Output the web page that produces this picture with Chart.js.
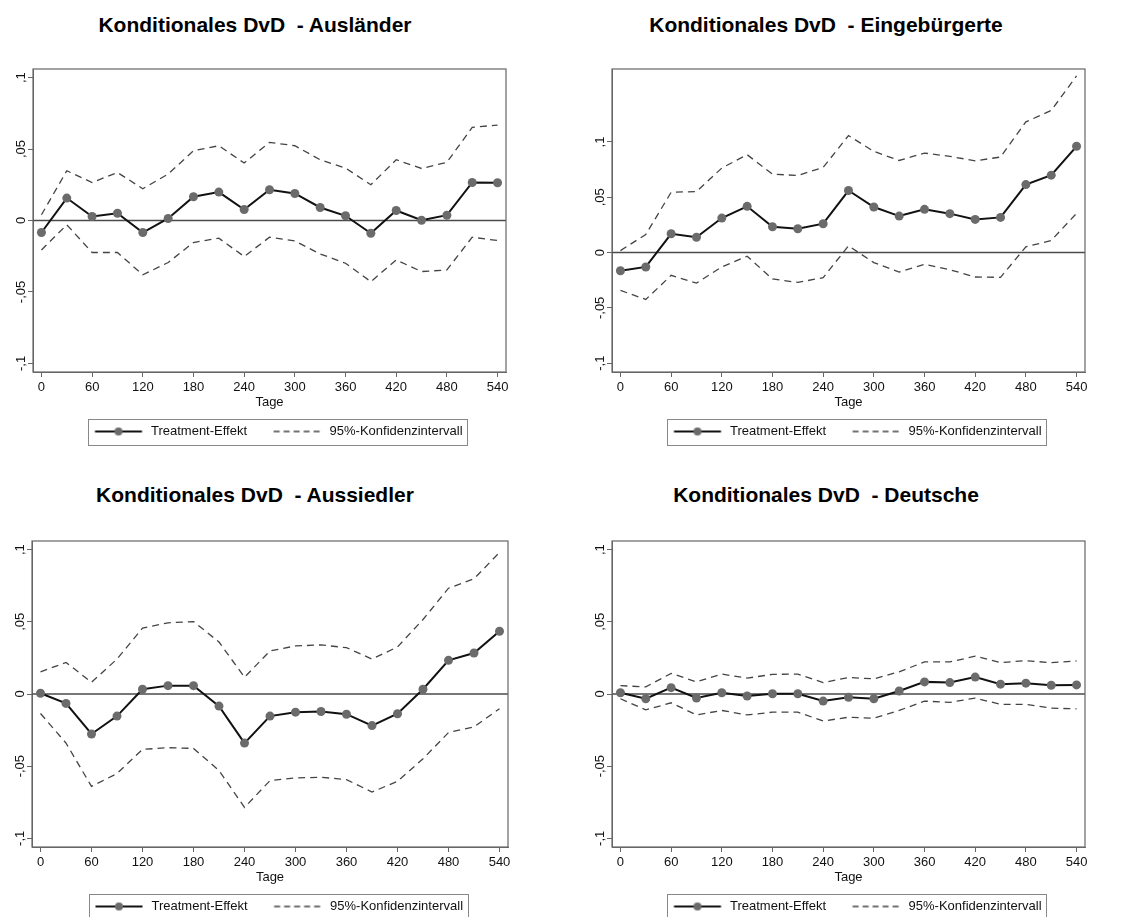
<!DOCTYPE html>
<html>
<head>
<meta charset="utf-8">
<script src="https://cdn.jsdelivr.net/npm/chart.js@4.4.1/dist/chart.umd.min.js"></script>
<style>
  body { margin: 0; width: 1130px; height: 917px; overflow: hidden; background: #fff; position: relative;
         font-family: "Liberation Sans", Arial, sans-serif; }
  .titel { position: absolute; width: 500px; text-align: center; font-weight: bold; font-size: 21px;
           line-height: 24px; color: #000; white-space: pre; }
  canvas { position: absolute; }
</style>
</head>
<body>
<div class="titel" id="t1" style="left:5px;top:13px"></div>
<div class="titel" id="t2" style="left:576px;top:13px"></div>
<div class="titel" id="t3" style="left:5px;top:483px"></div>
<div class="titel" id="t4" style="left:576px;top:483px"></div>
<canvas id="g1" width="560" height="440" style="left:0;top:40px"></canvas>
<canvas id="g2" width="565" height="440" style="left:565px;top:40px"></canvas>
<canvas id="g3" width="560" height="440" style="left:0;top:512px"></canvas>
<canvas id="g4" width="565" height="440" style="left:565px;top:512px"></canvas>
<script>
// Daten
const tage = [0, 30, 60, 90, 120, 150, 180, 210, 240, 270, 300, 330, 360, 390, 420, 450, 480, 510, 540];

const titel = [
  "Konditionales DvD  - Ausländer",
  "Konditionales DvD  - Eingebürgerte",
  "Konditionales DvD  - Aussiedler",
  "Konditionales DvD  - Deutsche"
];

const legendeTexte = ["Treatment-Effekt", "95%-Konfidenzintervall"];
const xTitel = "Tage";

const xTicks = [0, 60, 120, 180, 240, 300, 360, 420, 480, 540];
const yTicks = [-0.1, -0.05, 0, 0.05, 0.1];
const yTickLabels = ["-,1", "-,05", "0", ",05", ",1"];

// Ausländer
const auslEffekt = [-0.0084, 0.0157, 0.0028, 0.0051, -0.0084, 0.0014, 0.0166, 0.0199, 0.0077, 0.0215, 0.0189, 0.0091, 0.0033, -0.0089, 0.0070, 0.0002, 0.0037, 0.0266, 0.0264];
const auslOben   = [0.0040, 0.0348, 0.0266, 0.0336, 0.0222, 0.0325, 0.0488, 0.0523, 0.0402, 0.0547, 0.0523, 0.0425, 0.0367, 0.0250, 0.0425, 0.0364, 0.0407, 0.0652, 0.0668];
const auslUnten  = [-0.0206, -0.0030, -0.0224, -0.0224, -0.0380, -0.0294, -0.0154, -0.0124, -0.0252, -0.0117, -0.0143, -0.0234, -0.0299, -0.0428, -0.0276, -0.0357, -0.0346, -0.0117, -0.0140];

// Eingebürgerte
const einbEffekt = [-0.0164, -0.0130, 0.0170, 0.0139, 0.0312, 0.0418, 0.0233, 0.0215, 0.0261, 0.0561, 0.0412, 0.0330, 0.0391, 0.0352, 0.0300, 0.0318, 0.0615, 0.0700, 0.0961];
const einbOben   = [0.0018, 0.0164, 0.0545, 0.0552, 0.0764, 0.0885, 0.0709, 0.0697, 0.0770, 0.1058, 0.0915, 0.0833, 0.0900, 0.0870, 0.0830, 0.0864, 0.1182, 0.1285, 0.1597];
const einbUnten  = [-0.0342, -0.0424, -0.0206, -0.0276, -0.0130, -0.0033, -0.0239, -0.0270, -0.0227, 0.0061, -0.0091, -0.0176, -0.0106, -0.0155, -0.0221, -0.0224, 0.0052, 0.0109, 0.0355];

// Aussiedler
const aussEffekt = [0.0005, -0.0065, -0.0277, -0.0153, 0.0033, 0.0058, 0.0058, -0.0084, -0.0340, -0.0153, -0.0126, -0.0121, -0.0140, -0.0219, -0.0137, 0.0033, 0.0233, 0.0284, 0.0435];
const aussOben   = [0.0153, 0.0219, 0.0081, 0.0242, 0.0456, 0.0493, 0.0502, 0.0360, 0.0116, 0.0298, 0.0333, 0.0340, 0.0321, 0.0242, 0.0326, 0.0516, 0.0733, 0.0798, 0.0981];
const aussUnten  = [-0.0135, -0.0340, -0.0640, -0.0551, -0.0384, -0.0372, -0.0377, -0.0530, -0.0786, -0.0600, -0.0581, -0.0577, -0.0593, -0.0679, -0.0605, -0.0449, -0.0267, -0.0228, -0.0102];

// Deutsche
const deutEffekt = [0.0009, -0.0033, 0.0044, -0.0028, 0.0009, -0.0014, 0.0002, 0.0002, -0.0049, -0.0023, -0.0033, 0.0021, 0.0084, 0.0079, 0.0117, 0.0068, 0.0075, 0.0061, 0.0063];
const deutOben   = [0.0058, 0.0049, 0.0143, 0.0084, 0.0138, 0.0110, 0.0136, 0.0138, 0.0079, 0.0114, 0.0105, 0.0154, 0.0222, 0.0222, 0.0262, 0.0217, 0.0231, 0.0217, 0.0229];
const deutUnten  = [-0.0033, -0.0110, -0.0061, -0.0145, -0.0114, -0.0145, -0.0126, -0.0126, -0.0187, -0.0161, -0.0168, -0.0114, -0.0049, -0.0058, -0.0028, -0.0072, -0.0072, -0.0098, -0.0103];

// ---------------------------------------------------------------

const SCHRIFT = '"Liberation Sans", Arial, sans-serif';
const GRAU = '#666666';

// kleine Bilder fuer die Legende (Linie mit Punkt / gestrichelt)
function legendenBild(art) {
  const c = document.createElement('canvas');
  c.width = 68; c.height = 14;
  const g = c.getContext('2d');
  g.beginPath();
  g.moveTo(18.5, 7); g.lineTo(65.5, 7);
  if (art === 'punkt') {
    g.strokeStyle = '#111'; g.lineWidth = 2; g.stroke();
    g.beginPath(); g.arc(42, 7, 4, 0, Math.PI * 2);
    g.fillStyle = '#6b6b6b'; g.fill();
  } else {
    g.setLineDash([6, 4]);
    g.strokeStyle = '#444'; g.lineWidth = 1.3; g.stroke();
  }
  return c;
}
const bildEffekt = legendenBild('punkt');
const bildKI = legendenBild('strich');

// Rahmen um Plotbereich, Nulllinie, Rahmen um Legende
const rahmenPlugin = {
  id: 'rahmen',
  beforeDatasetsDraw(chart) {
    const {ctx, chartArea: a, scales} = chart;
    const y0 = scales.y.getPixelForValue(0);
    ctx.save();
    ctx.strokeStyle = '#4a4a4a';
    ctx.lineWidth = 1.5;
    ctx.beginPath(); ctx.moveTo(a.left, y0); ctx.lineTo(a.right, y0); ctx.stroke();
    ctx.restore();
  },
  afterDraw(chart) {
    const {ctx, chartArea: a} = chart;
    ctx.save();
    ctx.strokeStyle = GRAU;
    ctx.lineWidth = 1.2;
    ctx.strokeRect(a.left, a.top, a.right - a.left, a.bottom - a.top);
    const hb = chart.legend.legendHitBoxes;
    if (hb && hb.length) {
      const first = hb[0], last = hb[hb.length - 1];
      const mitte = first.top + 6.5;
      const l = first.left + 12, r = last.left + last.width + 5;
      ctx.strokeStyle = '#888';
      ctx.lineWidth = 1;
      ctx.strokeRect(Math.round(l) + 0.5, Math.round(mitte - 13) + 0.5, Math.round(r - l), 26);
    }
    ctx.restore();
  }
};

function zeichne(id, effekt, oben, unten, yMin, yMax, lay) {
  const punkte = arr => tage.map((t, i) => ({x: t, y: arr[i]}));
  return new Chart(document.getElementById(id), {
    type: 'line',
    data: {
      datasets: [
        { label: legendeTexte[0], data: punkte(effekt), borderColor: '#111', borderWidth: 2,
          pointRadius: 4.5, pointBackgroundColor: '#6b6b6b', pointBorderWidth: 0, tension: 0 },
        { label: legendeTexte[1], data: punkte(oben), borderColor: '#444', borderWidth: 1.3,
          borderDash: [7, 5], pointRadius: 0, tension: 0 },
        { label: legendeTexte[1], data: punkte(unten), borderColor: '#444', borderWidth: 1.3,
          borderDash: [7, 5], pointRadius: 0, tension: 0 }
      ]
    },
    options: {
      responsive: false,
      animation: false,
      layout: { padding: { top: lay.top, right: lay.right, bottom: lay.bottom, left: 0 } },
      scales: {
        x: {
          type: 'linear', min: -10, max: 550,
          afterBuildTicks: s => { s.ticks = xTicks.map(v => ({value: v})); },
          afterFit: s => { s.height = 45; },
          ticks: { color: '#111', font: { family: SCHRIFT, size: 13 }, padding: 3, maxRotation: 0,
                   callback: v => String(v) },
          grid: { drawOnChartArea: false, drawTicks: true, tickLength: 5, color: GRAU },
          border: { display: true, color: GRAU, width: 1 },
          title: { display: true, text: xTitel, color: '#111', font: { family: SCHRIFT, size: 13 },
                   padding: { top: 0, bottom: 7 } }
        },
        y: {
          type: 'linear', min: yMin, max: yMax,
          afterBuildTicks: s => { s.ticks = yTicks.map(v => ({value: v})); },
          afterFit: s => { s.width = lay.yBreite; },
          ticks: { color: '#111', font: { family: SCHRIFT, size: 13 }, minRotation: 90, maxRotation: 90,
                   crossAlign: 'center', padding: -5,
                   callback: (v, i) => yTickLabels[i] },
          grid: { drawOnChartArea: false, drawTicks: true, tickLength: 5, color: GRAU },
          border: { display: true, color: GRAU, width: 1 }
        }
      },
      plugins: {
        tooltip: { enabled: false },
        legend: {
          position: 'bottom',
          fullSize: false,
          labels: {
            usePointStyle: true,
            pointStyleWidth: 68,
            padding: 8,
            color: '#111',
            font: { family: SCHRIFT, size: 13 },
            generateLabels: () => [
              { text: legendeTexte[0], pointStyle: bildEffekt, fillStyle: '#fff', strokeStyle: '#fff',
                lineWidth: 0, hidden: false, datasetIndex: 0, fontColor: '#111' },
              { text: legendeTexte[1], pointStyle: bildKI, fillStyle: '#fff', strokeStyle: '#fff',
                lineWidth: 0, hidden: false, datasetIndex: 1, fontColor: '#111' }
            ]
          }
        }
      }
    },
    plugins: [rahmenPlugin]
  });
}

document.addEventListener("DOMContentLoaded", function () {
  ['t1', 't2', 't3', 't4'].forEach((id, i) => { document.getElementById(id).textContent = titel[i]; });

  zeichne('g1', auslEffekt, auslOben, auslUnten, -0.106, 0.106, { top: 29, right: 54, bottom: 32, yBreite: 33 });
  zeichne('g2', einbEffekt, einbOben, einbUnten, -0.108, 0.166, { top: 29, right: 45, bottom: 32, yBreite: 47 });
  zeichne('g3', aussEffekt, aussOben, aussUnten, -0.106, 0.106, { top: 29, right: 52, bottom: 29, yBreite: 32 });
  zeichne('g4', deutEffekt, deutOben, deutUnten, -0.106, 0.106, { top: 29, right: 45, bottom: 29, yBreite: 47 });
});
</script>
</body>
</html>
